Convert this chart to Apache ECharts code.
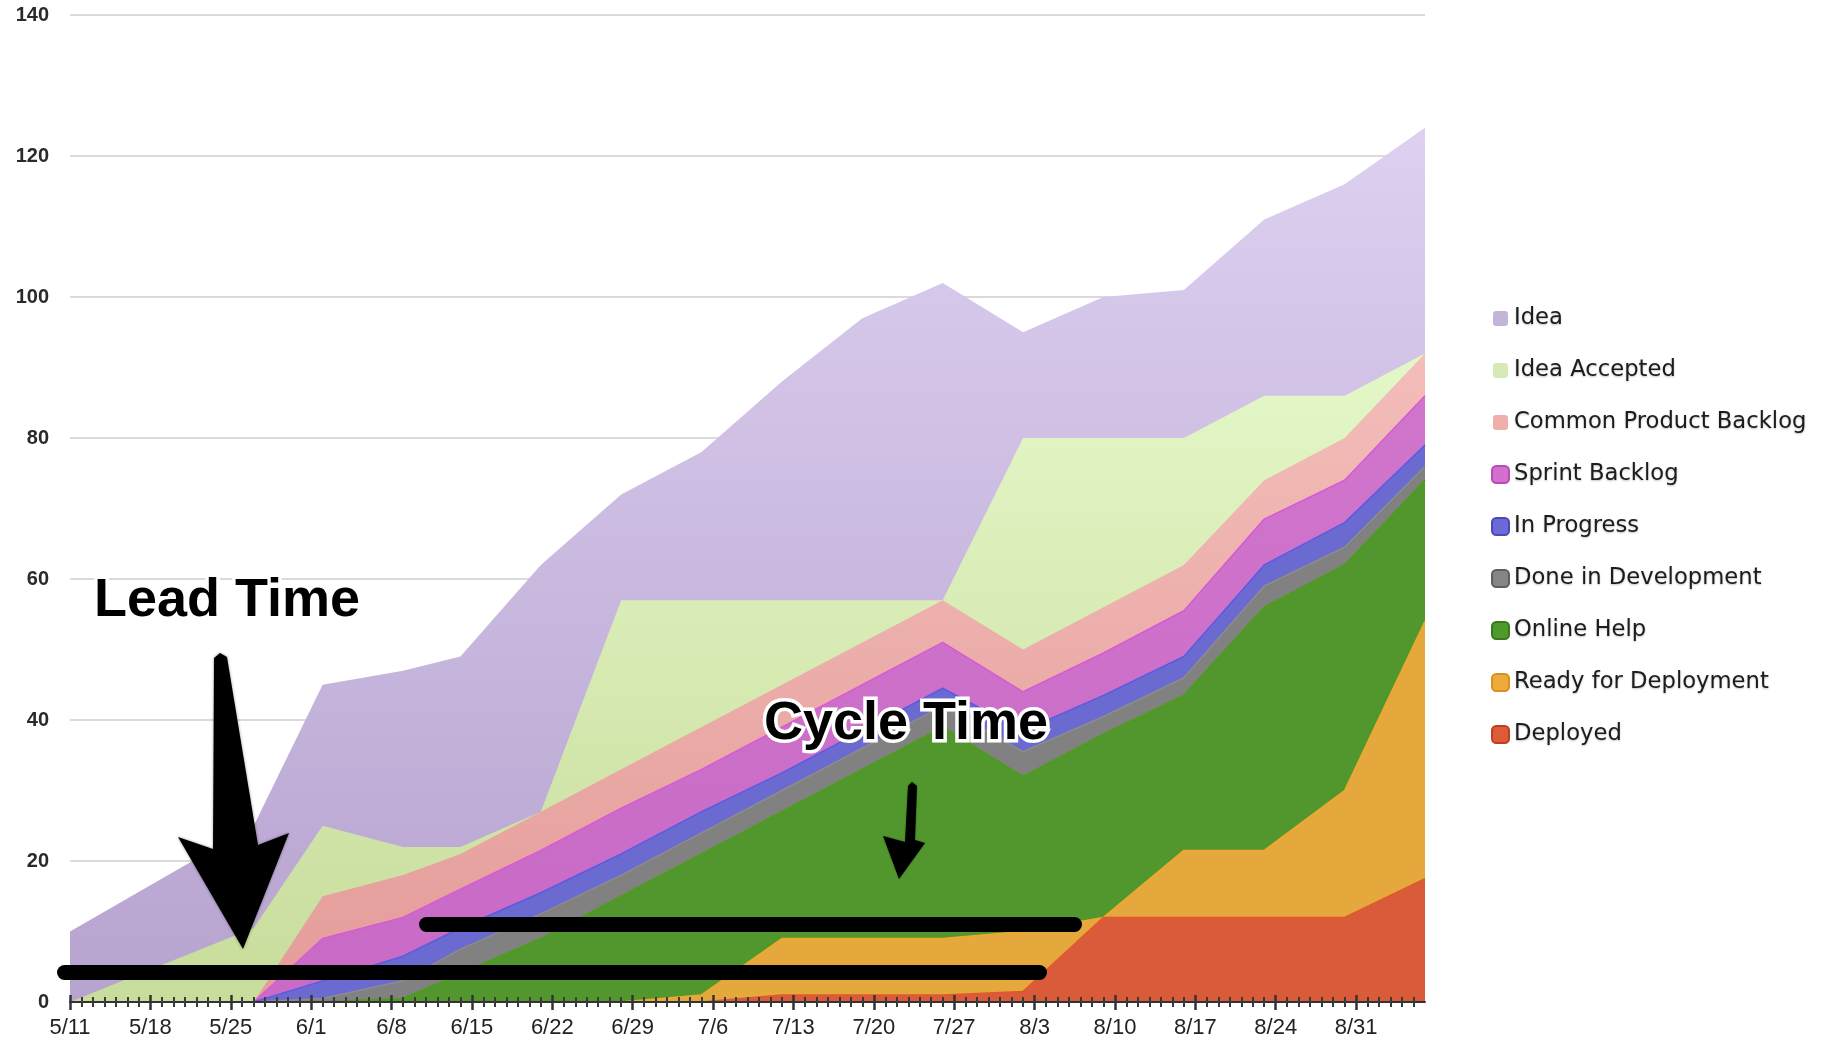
<!DOCTYPE html>
<html>
<head>
<meta charset="utf-8">
<title>Cumulative Flow</title>
<script src="https://cdn.jsdelivr.net/npm/echarts@6/dist/echarts.min.js"></script>
<style>
  html, body { margin: 0; padding: 0; background: #fff; }
  #cfd { width: 1823px; height: 1045px; }
</style>
</head>
<body>
<div id="cfd"></div>
<script>
// sample days, counted from 5/11
const days = [0, 16, 22, 29, 34, 41, 48, 55, 62, 69, 76, 83, 90, 97, 104, 111, 118];
const weekLabels = ['5/11', '5/18', '5/25', '6/1', '6/8', '6/15', '6/22', '6/29', '7/6',
  '7/13', '7/20', '7/27', '8/3', '8/10', '8/17', '8/24', '8/31'];

// cumulative tops of every band (each value includes all bands below it)
const ideaTop        = [10, 25, 45, 47, 49, 62, 72, 78, 88, 97, 102, 95, 100, 101, 111, 116, 124];
const acceptedTop    = [0, 10.5, 25, 22, 22, 27, 57, 57, 57, 57, 57, 80, 80, 80, 86, 86, 92];
const productTop     = [0, 0, 15, 18, 21, 27, 33, 39, 45, 51, 57, 50, 56, 62, 74, 80, 92];
const sprintTop      = [0, 0, 9, 12, 16, 21.5, 27.5, 33, 39, 45, 51, 44, 49.5, 55.5, 68.5, 74, 86];
const progressTop    = [0, 0, 3, 6.5, 10.5, 15.5, 21, 27, 32.5, 38.5, 44.5, 38.5, 43.5, 49, 62, 68, 79];
const doneDevTop     = [0, 0, 0.5, 3, 7.5, 12.5, 18, 24, 30, 36, 42, 35.5, 40.5, 46, 59, 64.5, 76];
const onlineHelpTop  = [0, 0, 0, 0.5, 4, 9, 15, 21, 27, 33, 39, 32, 38, 43.5, 56, 62, 74];
const readyTop       = [0, 0, 0, 0, 0, 0, 0, 1, 9, 9, 9, 10, 12, 21.5, 21.5, 30, 54];
const deployedTop    = [0, 0, 0, 0, 0, 0, 0, 0, 1, 1, 1, 1.5, 12, 12, 12, 12, 17.5];

const chart = echarts.init(document.getElementById('cfd'));

function grad(top, bottom) {
  return new echarts.graphic.LinearGradient(0, 0, 0, 1, [
    { offset: 0, color: top },
    { offset: 1, color: bottom }
  ]);
}

// bands are drawn from the biggest total down, each one painted over the last
const bands = [
  { name: 'Idea', data: ideaTop, fill: grad('#ddd0f0', '#b6a3cf'), line: null, icon: '#c4b4da', border: '#fff' },
  { name: 'Idea Accepted', data: acceptedTop, fill: grad('#e4f7c8', '#c8dc9b'), line: null, icon: '#d6e9b6', border: '#fff' },
  { name: 'Common Product Backlog', data: productTop, fill: grad('#f3bdb9', '#e49c99'), line: null, icon: '#efb0ac', border: '#fff' },
  { name: 'Sprint Backlog', data: sprintTop, fill: grad('#d075cc', '#c86ac6'), line: '#d65ad6', icon: '#d46fd0', border: '#b44fb2' },
  { name: 'In Progress', data: progressTop, fill: '#6a6ad0', line: '#5a5ae2', icon: '#6c6ad8', border: '#4c4ab4' },
  { name: 'Done in Development', data: doneDevTop, fill: '#818181', line: '#8c8c8c', icon: '#858585', border: '#5e5e5e' },
  { name: 'Online Help', data: onlineHelpTop, fill: '#52972e', line: '#4c9e14', icon: '#4f9a2c', border: '#3a7a1c' },
  { name: 'Ready for Deployment', data: readyTop, fill: '#e5a83c', line: '#f0a92c', icon: '#efaa3c', border: '#d89020' },
  { name: 'Deployed', data: deployedTop, fill: '#d95b3a', line: '#e2582e', icon: '#de5b3a', border: '#bc4020' }
];

const series = bands.map(b => ({
  name: b.name,
  type: 'line',
  data: days.map((d, i) => [d, b.data[i]]),
  showSymbol: false,
  symbol: 'none',
  lineStyle: b.line ? { color: b.line, width: 1.5 } : { opacity: 0 },
  itemStyle: { color: b.icon },
  areaStyle: { color: b.fill, opacity: 1 },
  emphasis: { disabled: true }
}));

const tickDays = weekLabels.map((l, i) => i * 7);

const option = {
  animation: false,
  backgroundColor: '#fff',
  grid: { left: 70, right: 398, top: 15, bottom: 43 },
  legend: {
    orient: 'vertical',
    left: 1486,
    top: 302,
    itemWidth: 17,
    itemHeight: 17,
    itemGap: 29,
    icon: 'roundRect',
    textStyle: {
      fontFamily: 'DejaVu Sans',
      fontSize: 22.7,
      color: '#1c1c1c',
      textShadowColor: 'rgba(0,0,0,0.25)',
      textShadowBlur: 2,
      textShadowOffsetY: 1
    },
    data: bands.map(b => ({
      name: b.name,
      itemStyle: { color: b.icon, borderColor: b.border, borderWidth: 2 }
    }))
  },
  xAxis: [
    {
      type: 'value',
      z: 10,
      min: 0,
      max: 118,
      interval: 7,
      splitLine: { show: false },
      axisLine: { onZero: false, lineStyle: { color: '#333', width: 2 } },
      axisTick: { length: 8, customValues: tickDays, lineStyle: { color: '#333', width: 2.5 } },
      minorTick: { show: true, splitNumber: 7, length: 5, lineStyle: { color: '#3a3a3a', width: 2 } },
      axisLabel: {
        margin: 15,
        fontFamily: 'Liberation Sans',
        fontSize: 22,
        color: '#222',
        customValues: tickDays,
        formatter: v => (v % 7 === 0 && weekLabels[v / 7]) ? weekLabels[v / 7] : ''
      }
    },
    {
      // second copy of the axis so the ticks cross the axis line
      type: 'value',
      z: 10,
      min: 0,
      max: 118,
      interval: 7,
      position: 'bottom',
      splitLine: { show: false },
      axisLine: { show: false, onZero: false },
      axisTick: { inside: true, length: 7, customValues: tickDays, lineStyle: { color: '#333', width: 2.5 } },
      minorTick: { show: true, splitNumber: 7, length: 5, lineStyle: { color: '#3a3a3a', width: 2 } },
      axisLabel: { show: false }
    }
  ],
  yAxis: {
    type: 'value',
    min: 0,
    max: 140,
    interval: 20,
    axisLine: { show: false },
    axisTick: { show: false },
    splitLine: { lineStyle: { color: '#dadada', width: 2 } },
    axisLabel: {
      margin: 21,
      fontFamily: 'Liberation Sans',
      fontSize: 20,
      fontWeight: 'bold',
      color: '#2a2a2a'
    }
  },
  series: series,
  graphic: [
    // lead time bar
    { type: 'rect', z: 100, shape: { x: 57, y: 965, width: 990, height: 15, r: 7.5 }, style: { fill: '#000' } },
    // cycle time bar
    { type: 'rect', z: 100, shape: { x: 419, y: 917, width: 663, height: 15, r: 7.5 }, style: { fill: '#000' } },
    // big arrow
    {
      type: 'polygon', z: 100,
      shape: { points: [[214, 658], [220, 653], [227, 657], [258, 845], [289, 833], [243, 949], [178, 837], [213, 849]] },
      style: { fill: '#000', shadowBlur: 3, shadowColor: 'rgba(0,0,0,0.4)' }
    },
    // small arrow
    {
      type: 'polygon', z: 100,
      shape: { points: [[908, 786], [912, 782], [917, 786], [915, 840], [925, 843], [899, 879], [883, 836], [905, 842]] },
      style: { fill: '#000', shadowBlur: 2, shadowColor: 'rgba(0,0,0,0.4)' }
    },
    {
      type: 'text', z: 110,
      style: {
        text: 'Lead Time', x: 227, y: 601,
        font: 'bold 54px "Liberation Sans"',
        align: 'center', verticalAlign: 'middle',
        textAlign: 'center', textVerticalAlign: 'middle',
        fill: '#000', stroke: '#fff', lineWidth: 7, strokeFirst: true,
        shadowBlur: 6, shadowColor: 'rgba(0,0,0,0.5)', shadowOffsetY: 3, shadowOffsetX: 1
      }
    },
    {
      type: 'text', z: 110,
      style: {
        text: 'Cycle Time', x: 906, y: 724,
        font: 'bold 54px "Liberation Sans"',
        align: 'center', verticalAlign: 'middle',
        textAlign: 'center', textVerticalAlign: 'middle',
        fill: '#000', stroke: '#fff', lineWidth: 7, strokeFirst: true,
        shadowBlur: 6, shadowColor: 'rgba(0,0,0,0.5)', shadowOffsetY: 3, shadowOffsetX: 1
      }
    }
  ]
};

chart.setOption(option);
window.addEventListener('resize', () => chart.resize());
</script>
</body>
</html>
